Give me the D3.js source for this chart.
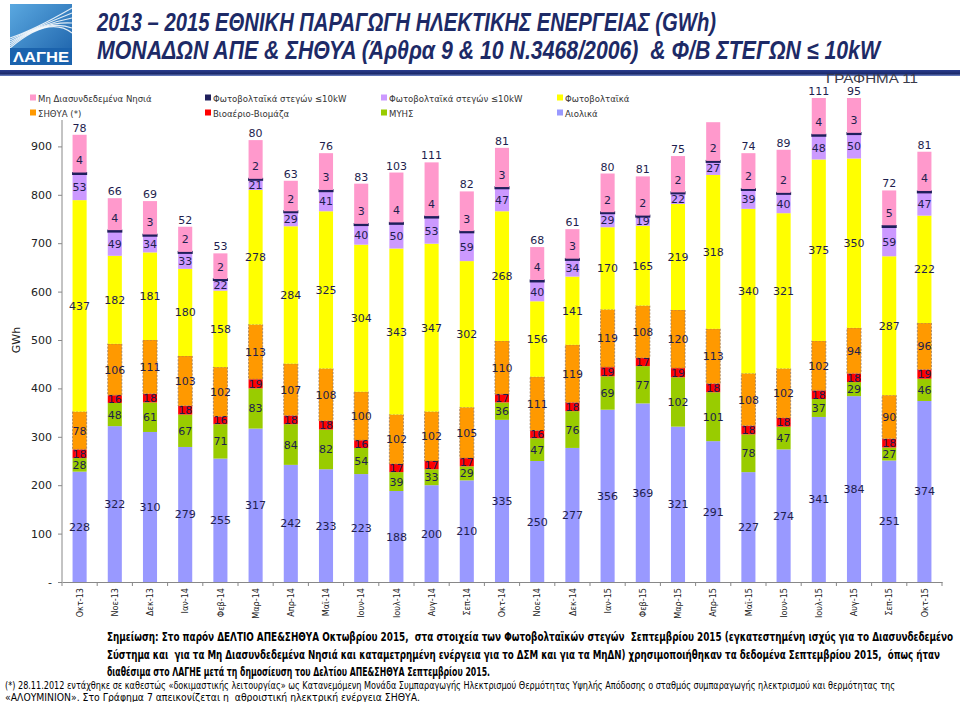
<!DOCTYPE html>
<html>
<head>
<meta charset="utf-8">
<script src="https://cdn.jsdelivr.net/npm/d3@7"></script>
<style>
html,body{margin:0;padding:0;background:#fff;}
svg{display:block;}
</style>
</head>
<body>
<svg id="chart" width="960" height="702"></svg>
<script>
// ---- DATA ----
const months = ["Οκτ-13","Νοε-13","Δεκ-13","Ιαν-14","Φεβ-14","Μαρ-14","Απρ-14","Μαϊ-14","Ιουν-14","Ιουλ-14","Αυγ-14","Σεπ-14","Οκτ-14","Νοε-14","Δεκ-14","Ιαν-15","Φεβ-15","Μαρ-15","Απρ-15","Μαϊ-15","Ιουν-15","Ιουλ-15","Αυγ-15","Σεπ-15","Οκτ-15"];
const aiolika      = [228,322,310,279,255,317,242,233,223,188,200,210,335,250,277,356,369,321,291,227,274,341,384,251,374];
const myhs         = [28,48,61,67,71,83,84,82,54,39,33,29,36,47,76,69,77,102,101,78,47,37,29,27,46];
const bioaerio     = [18,16,18,18,16,19,18,18,16,17,17,17,17,16,18,19,17,19,18,18,18,18,18,18,19];
const sithya       = [78,106,111,103,102,113,107,108,100,102,102,105,110,111,119,119,108,120,113,108,102,102,94,90,96];
const fotovoltaika = [437,182,181,180,158,278,284,325,304,343,347,302,268,156,141,170,165,219,318,340,321,375,350,287,222];
const pvStegon     = [53,49,34,33,22,21,29,41,40,50,53,59,47,40,34,29,19,22,27,39,40,48,50,59,47];
const pvStegonMDN  = [4,4,3,2,2,2,2,3,3,4,4,3,3,4,3,2,2,2,2,2,2,4,3,5,4];
const mdn          = [78,66,69,52,53,80,63,76,83,103,111,82,81,68,61,80,81,75,80,74,89,111,95,72,81];
const yTicks = [0,100,200,300,400,500,600,700,800,900];

const seriesNames = ["Αιολικά","ΜΥΗΣ","Βιοαέριο-Βιομάζα","ΣΗΘΥΑ (*)","Φωτοβολταϊκά","Φωτοβολταϊκά στεγών ≤10kW","Φωτοβολταϊκά στεγών ≤10kW ","Μη Διασυνδεδεμένα Νησιά"];
const seriesData = [aiolika, myhs, bioaerio, sithya, fotovoltaika, pvStegon, pvStegonMDN, mdn];
const colors = ["#9999FF","#99CC00","#FF0000","#FF9900","#FFFF00","#CC99FF","#1F1F5C","#FF99CC"];

// ---- SETUP ----
const svg = d3.select("#chart");
const W = 960, H = 702;
const plot = {left:62, right:942, top:98, bottom:582};

const x = d3.scaleBand().domain(months).range([plot.left, plot.right]).paddingInner(0.6).paddingOuter(0.3);
const y = d3.scaleLinear().domain([0,1000]).range([plot.bottom, plot.top]);

const rows = months.map((m,i)=>{ const r={month:m}; seriesNames.forEach((s,k)=>r[s]=seriesData[k][i]); return r; });
const stack = d3.stack().keys(seriesNames)(rows);

const defs = svg.append("defs");
defs.append("clipPath").attr("id","plotclip").append("rect")
  .attr("x",0).attr("y",y(1000)).attr("width",W).attr("height",y(0)-y(1000));
const lg = defs.append("linearGradient").attr("id","logoGrad").attr("x1","0").attr("y1","0").attr("x2","1").attr("y2","1");
lg.append("stop").attr("offset","0").attr("stop-color","#5aa8e0");
lg.append("stop").attr("offset","1").attr("stop-color","#1a5fa8");
const hg = defs.append("linearGradient").attr("id","lineGrad").attr("x1","0").attr("y1","0").attr("x2","0").attr("y2","1");
hg.append("stop").attr("offset","0").attr("stop-color","#2a3d8f");
hg.append("stop").attr("offset","0.6").attr("stop-color","#1c2a6c");
hg.append("stop").attr("offset","1").attr("stop-color","#6f86c8");

// ---- BARS ----
const gBars = svg.append("g").attr("clip-path","url(#plotclip)");
stack.forEach((layer,k)=>{
  gBars.append("g").selectAll("rect").data(layer).join("rect")
    .attr("x", d=>x(d.data.month) - (k===6?0.5:0))
    .attr("width", x.bandwidth() + (k===6?1:0))
    .attr("y", d=> k===6 ? (y(d[0]) + y(d[1]))/2 - 1.5 : y(d[1]))
    .attr("height", d=> k===6 ? 3 : Math.max(0, y(d[0]) - y(d[1])))
    .attr("fill", colors[k])
    .attr("stroke", k===3 ? "#9a7a5a" : "none")
    .attr("stroke-width", k===3 ? 0.8 : 0)
    .attr("stroke-dasharray", k===3 ? "2,1.5" : null);
});

// ---- LABELS ----
const lblFont = "'DejaVu Sans', Verdana, sans-serif";
const gLbl = svg.append("g").attr("font-family", lblFont).attr("font-size", 11).attr("fill","#1e1e4e").attr("text-anchor","middle");
stack.forEach((layer,k)=>{
  gLbl.append("g").selectAll("text").data(layer).join("text")
    .attr("x", d=>x(d.data.month) + x.bandwidth()/2)
    .attr("y", d=>{
      if (k===6) return y(d[1]) - 8.5;
      if (k===7) return Math.max(y(d[1]), y(1000)) - 3;
      return (y(d[0]) + y(d[1]))/2 + 4;
    })
    .text(d=> d.data[seriesNames[k]]);
});

// ---- AXES ----
const gy = svg.append("g").attr("transform",`translate(${plot.left},0)`)
  .call(d3.axisLeft(y).tickValues(yTicks).tickSize(4).tickFormat(d=> d===0 ? "-" : d));
gy.select(".domain").remove();
gy.selectAll("text").attr("font-family", lblFont).attr("font-size", 11).attr("fill","#222").attr("dx",-3);
gy.selectAll("line").attr("stroke","#888");
svg.append("line").attr("x1",plot.left).attr("x2",plot.left).attr("y1",y(955)).attr("y2",y(0)).attr("stroke","#888");

const gx = svg.append("g").attr("transform",`translate(0,${plot.bottom})`)
  .call(d3.axisBottom(x).tickSize(0).tickPadding(6));
gx.select(".domain").attr("stroke","#888");
gx.selectAll(".tick").attr("transform",null);
gx.selectAll("text").attr("font-family","'DejaVu Sans Condensed','DejaVu Sans',sans-serif").attr("font-size",9).attr("fill","#222")
  .attr("text-anchor","end").attr("dx","-6").attr("dy","0.35em").attr("y",0).attr("x",0)
  .each(function(d){ d3.select(this).attr("transform",`translate(${x(d)+x.bandwidth()/2},0) rotate(-90)`); });
const step = x.step();
const bounds = months.map(m => x(m) - step*x.paddingInner()/2).concat([x(months[months.length-1]) + x.bandwidth() + step*x.paddingInner()/2]);
svg.append("g").selectAll("line").data(bounds).join("line")
  .attr("x1",d=>d).attr("x2",d=>d).attr("y1",plot.bottom).attr("y2",plot.bottom+4).attr("stroke","#888");

svg.append("text").attr("transform",`translate(20,340) rotate(-90)`).attr("text-anchor","middle")
  .attr("font-family",lblFont).attr("font-size",11).attr("fill","#222").text("GWh");

// ---- LEGEND ----
const legendOrder = [7,6,5,4,3,2,1,0];
const legendLabels = ["Μη Διασυνδεδεμένα Νησιά","Φωτοβολταϊκά στεγών ≤10kW","Φωτοβολταϊκά στεγών ≤10kW","Φωτοβολταϊκά","ΣΗΘΥΑ (*)","Βιοαέριο-Βιομάζα","ΜΥΗΣ","Αιολικά"];
const gLeg = svg.append("g");
gLeg.append("rect").attr("x",20).attr("y",87).attr("width",770).attr("height",33).attr("fill","#fff");
const colX = [30,205,381,557], rowY = [98,113];
legendOrder.forEach((k,i)=>{
  const cx = colX[i%4], cy = rowY[Math.floor(i/4)];
  gLeg.append("rect").attr("x",cx).attr("y",cy-3.5).attr("width",6).attr("height",6).attr("fill",colors[k]);
  gLeg.append("text").attr("x",cx+8).attr("y",cy+3.5).attr("font-family","'DejaVu Sans Condensed','DejaVu Sans',sans-serif")
    .attr("font-size",9.5).attr("fill","#333").text(legendLabels[i]);
});

// ---- HEADER ----
const logo = svg.append("g");
logo.append("rect").attr("x",10).attr("y",4).attr("width",62).attr("height",61).attr("fill","url(#logoGrad)");
[0,1,2,3,4,5].forEach(i=>{
  logo.append("path").attr("d",`M${10} ${38+i*2} Q ${34+i*3} ${30-i*3} ${72} ${8+i*5}`)
    .attr("fill","none").attr("stroke","#fff").attr("stroke-width",1.1).attr("opacity",0.85);
});
logo.append("rect").attr("x",10).attr("y",48).attr("width",62).attr("height",17).attr("fill","#1b63ad");
logo.append("text").attr("x",41).attr("y",62).attr("text-anchor","middle").attr("font-family","'Liberation Sans',Arial,sans-serif")
  .attr("font-weight","bold").attr("font-size",14).attr("fill","#fff").attr("textLength",56).attr("lengthAdjust","spacingAndGlyphs").text("ΛΑΓΗΕ");

const titleFont = "'Liberation Sans Narrow','Arial Narrow','Liberation Sans',Arial,sans-serif";
svg.append("text").attr("x",97).attr("y",31).attr("font-family",titleFont).attr("font-weight","bold").attr("font-style","italic")
  .attr("font-size",25).attr("fill","#1d2a66").attr("textLength",619).attr("lengthAdjust","spacingAndGlyphs")
  .text("2013 – 2015 ΕΘΝΙΚΗ ΠΑΡΑΓΩΓΗ ΗΛΕΚΤΙΚΗΣ ΕΝΕΡΓΕΙΑΣ (GWh)");
svg.append("text").attr("x",97).attr("y",59).attr("font-family",titleFont).attr("font-weight","bold").attr("font-style","italic")
  .attr("font-size",25).attr("fill","#1d2a66").attr("textLength",783).attr("lengthAdjust","spacingAndGlyphs")
  .attr("xml:space","preserve").text("ΜΟΝΑΔΩΝ ΑΠΕ & ΣΗΘΥΑ (Άρθρα 9 & 10 Ν.3468/2006)  & Φ/Β ΣΤΕΓΩΝ ≤ 10kW");

svg.append("rect").attr("x",0).attr("y",70).attr("width",W).attr("height",6).attr("fill","url(#lineGrad)");
svg.append("text").attr("x",826).attr("y",83).attr("font-family","'Liberation Sans',Arial,sans-serif").attr("font-size",13)
  .attr("fill","#3a3a4a").attr("textLength",92).attr("lengthAdjust","spacingAndGlyphs").text("ΓΡΑΦΗΜΑ 11");

// ---- FOOTNOTES ----
const noteFont = "'Liberation Sans Narrow','DejaVu Sans Condensed','Liberation Sans',sans-serif";
const notes = [
  {t:"Σημείωση: Στο παρόν ΔΕΛΤΙΟ ΑΠΕ&ΣΗΘΥΑ Οκτωβρίου 2015,  στα στοιχεία των Φωτοβολταϊκών στεγών  Σεπτεμβρίου 2015 (εγκατεστημένη ισχύς για το Διασυνδεδεμένο", y:641, w:846},
  {t:"Σύστημα και  για τα Μη Διασυνδεδεμένα Νησιά και καταμετρημένη ενέργεια για το ΔΣΜ και για τα ΜηΔΝ) χρησιμοποιήθηκαν τα δεδομένα Σεπτεμβρίου 2015,  όπως ήταν", y:659, w:833},
  {t:"διαθέσιμα στο ΛΑΓΗΕ μετά τη δημοσίευση του Δελτίου ΑΠΕ&ΣΗΘΥΑ Σεπτεμβρίου 2015.", y:676, w:383}
];
notes.forEach(n=>{
  svg.append("text").attr("x",107).attr("y",n.y).attr("font-family",noteFont).attr("font-weight","bold").attr("font-size",13)
    .attr("fill","#000").attr("textLength",n.w).attr("lengthAdjust","spacingAndGlyphs").attr("xml:space","preserve").text(n.t);
});
const small = [
  {t:"(*) 28.11.2012 εντάχθηκε σε καθεστώς «δοκιμαστικής λειτουργίας» ως Κατανεμόμενη Μονάδα Συμπαραγωγής Ηλεκτρισμού Θερμότητας Υψηλής Απόδοσης ο σταθμός συμπαραγωγής ηλεκτρισμού και θερμότητας της", y:689, w:890},
  {t:"«ΑΛΟΥΜΙΝΙΟΝ». Στο Γράφημα 7 απεικονίζεται η  αθροιστική ηλεκτρική ενέργεια ΣΗΘΥΑ.", y:701, w:415}
];
small.forEach(n=>{
  svg.append("text").attr("x",5).attr("y",n.y).attr("font-family",noteFont).attr("font-size",10)
    .attr("fill","#000").attr("textLength",n.w).attr("lengthAdjust","spacingAndGlyphs").attr("xml:space","preserve").text(n.t);
});
</script>
</body>
</html>
